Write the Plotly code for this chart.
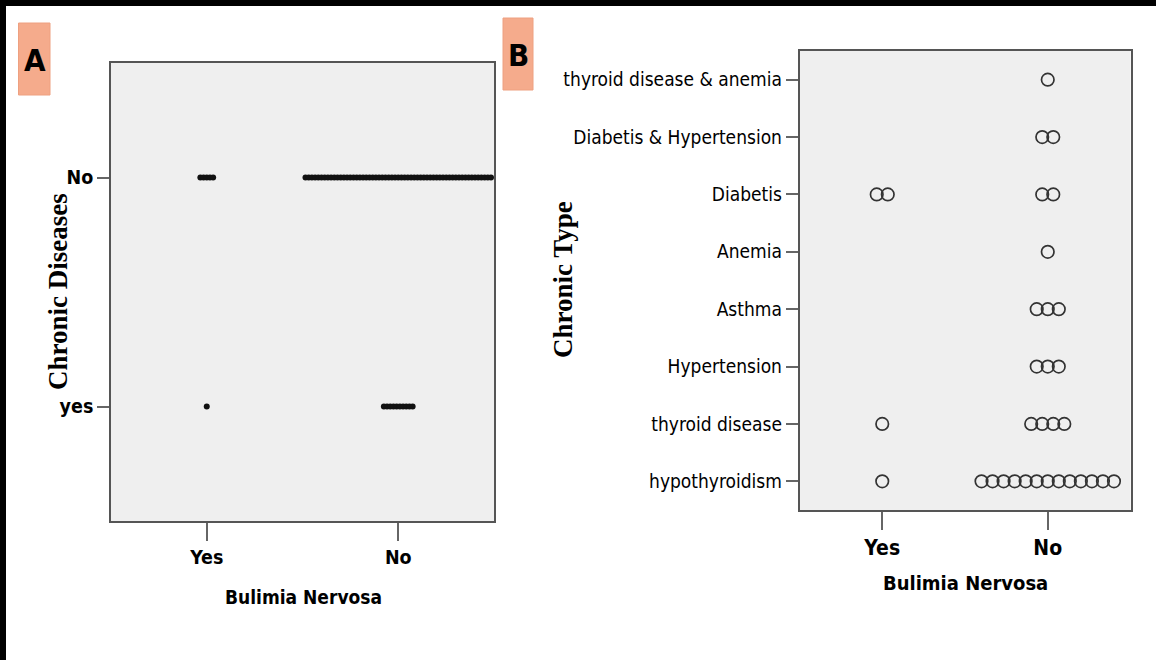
import plotly.graph_objects as go

# ---------------- data ----------------
bulimia = ["Yes", "No"]                       # x categories (both panels)
chronic_a = ["yes", "No"]                     # panel A y categories, bottom -> top
a_counts_bul_yes = [1, 5]                     # Bulimia Yes: chronic yes, chronic No
a_counts_bul_no = [10, 59]                    # Bulimia No : chronic yes, chronic No

types_b = ["hypothyroidism", "thyroid disease", "Hypertension", "Asthma",
           "Anemia", "Diabetis", "Diabetis & Hypertension",
           "thyroid disease & anemia"]        # panel B y categories, bottom -> top
b_counts_bul_yes = [1, 1, 0, 0, 0, 2, 0, 0]
b_counts_bul_no = [13, 4, 3, 3, 1, 2, 2, 1]

W, H = 1156, 660
NARROW = "Liberation Sans Narrow, Arial Narrow, DejaVu Sans Condensed, sans-serif"
SERIF = "Liberation Serif, Times New Roman, serif"


def stack(counts_by_x, step):
    xs, ys = [], []
    for xi, counts in enumerate(counts_by_x):
        for yi, n in enumerate(counts):
            for k in range(n):
                xs.append(xi + (k - (n - 1) / 2) * step)
                ys.append(yi)
    return xs, ys


ax_x, ax_y = stack([a_counts_bul_yes, a_counts_bul_no], 0.0167)
bx_x, bx_y = stack([b_counts_bul_yes, b_counts_bul_no], 0.0667)

fig = go.Figure()
fig.add_trace(go.Scatter(x=ax_x, y=ax_y, mode="markers", xaxis="x", yaxis="y",
                         marker=dict(size=6, color="#111111", line=dict(width=0)),
                         showlegend=False, hoverinfo="skip"))
fig.add_trace(go.Scatter(x=bx_x, y=bx_y, mode="markers", xaxis="x2", yaxis="y2",
                         marker=dict(symbol="circle-open", size=12.5, color="#333333",
                                     line=dict(width=1.7, color="#333333")),
                         showlegend=False, hoverinfo="skip"))

common = dict(showgrid=False, zeroline=False, showline=True, mirror=True,
              linecolor="#555555", linewidth=1.5, ticks="outside",
              tickcolor="#666666", tickwidth=1.5)

fig.update_layout(
    width=W, height=H, margin=dict(l=0, r=0, t=0, b=0),
    paper_bgcolor="white", plot_bgcolor="#efefef",
    xaxis=dict(domain=[111 / W, 494 / W], range=[-0.5, 1.5], tickvals=[0, 1],
               ticktext=["<b>%s</b>" % t for t in bulimia], ticklen=18, anchor="y",
               tickfont=dict(family=NARROW, size=19.5, color="black"), **common),
    yaxis=dict(domain=[1 - 521 / H, 1 - 63 / H], range=[-0.5, 1.5], tickvals=[0, 1],
               ticktext=["<b>%s</b>" % t for t in chronic_a], ticklen=12, anchor="x",
               tickfont=dict(family=NARROW, size=19.5, color="black"), **common),
    xaxis2=dict(domain=[799.5 / W, 1130.5 / W], range=[-0.5, 1.5], tickvals=[0, 1],
                ticktext=["<b>%s</b>" % t for t in bulimia], ticklen=18, anchor="y2",
                tickfont=dict(family=NARROW, size=21, color="black"), **common),
    yaxis2=dict(domain=[1 - 510 / H, 1 - 51 / H], range=[-0.5, 7.5],
                tickvals=list(range(len(types_b))), ticktext=types_b, ticklen=12,
                anchor="x2",
                tickfont=dict(family=NARROW, size=19, color="black"), **common),
)


def note(text, x, y, size, family, angle=0):
    return dict(text=text, x=x / W, y=1 - y / H, xref="paper", yref="paper",
                xanchor="center", yanchor="middle", showarrow=False, textangle=angle,
                font=dict(family=family, size=size, color="black"))


ann = [
    note("<b>Bulimia Nervosa</b>", 303, 597, 19, NARROW),
    note("<b>Bulimia Nervosa</b>", 965, 583, 20, NARROW),
    note("<b>Chronic Diseases</b>", 58, 292, 27, SERIF, -90),
    note("<b>Chronic Type</b>", 563, 280, 27, SERIF, -90),
    note("<b>A</b>", 34.5, 60, 31, NARROW),
    note("<b>B</b>", 518, 55, 31, NARROW),
]
fig.update_layout(annotations=ann)

shapes = [
    dict(type="rect", xref="paper", yref="paper", x0=18.5 / W, x1=50 / W,
         y0=1 - 95 / H, y1=1 - 23 / H, fillcolor="#f5ab8c",
         line=dict(color="#eea080", width=1), layer="below"),
    dict(type="rect", xref="paper", yref="paper", x0=503 / W, x1=533 / W,
         y0=1 - 90 / H, y1=1 - 18 / H, fillcolor="#f5ab8c",
         line=dict(color="#eea080", width=1), layer="below"),
    dict(type="rect", xref="paper", yref="paper", x0=0, x1=6 / W, y0=0, y1=1,
         fillcolor="black", line=dict(width=0)),
    dict(type="rect", xref="paper", yref="paper", x0=0, x1=1, y0=1 - 6 / H, y1=1,
         fillcolor="black", line=dict(width=0)),
]
fig.update_layout(shapes=shapes)

fig.write_html("out.html")
